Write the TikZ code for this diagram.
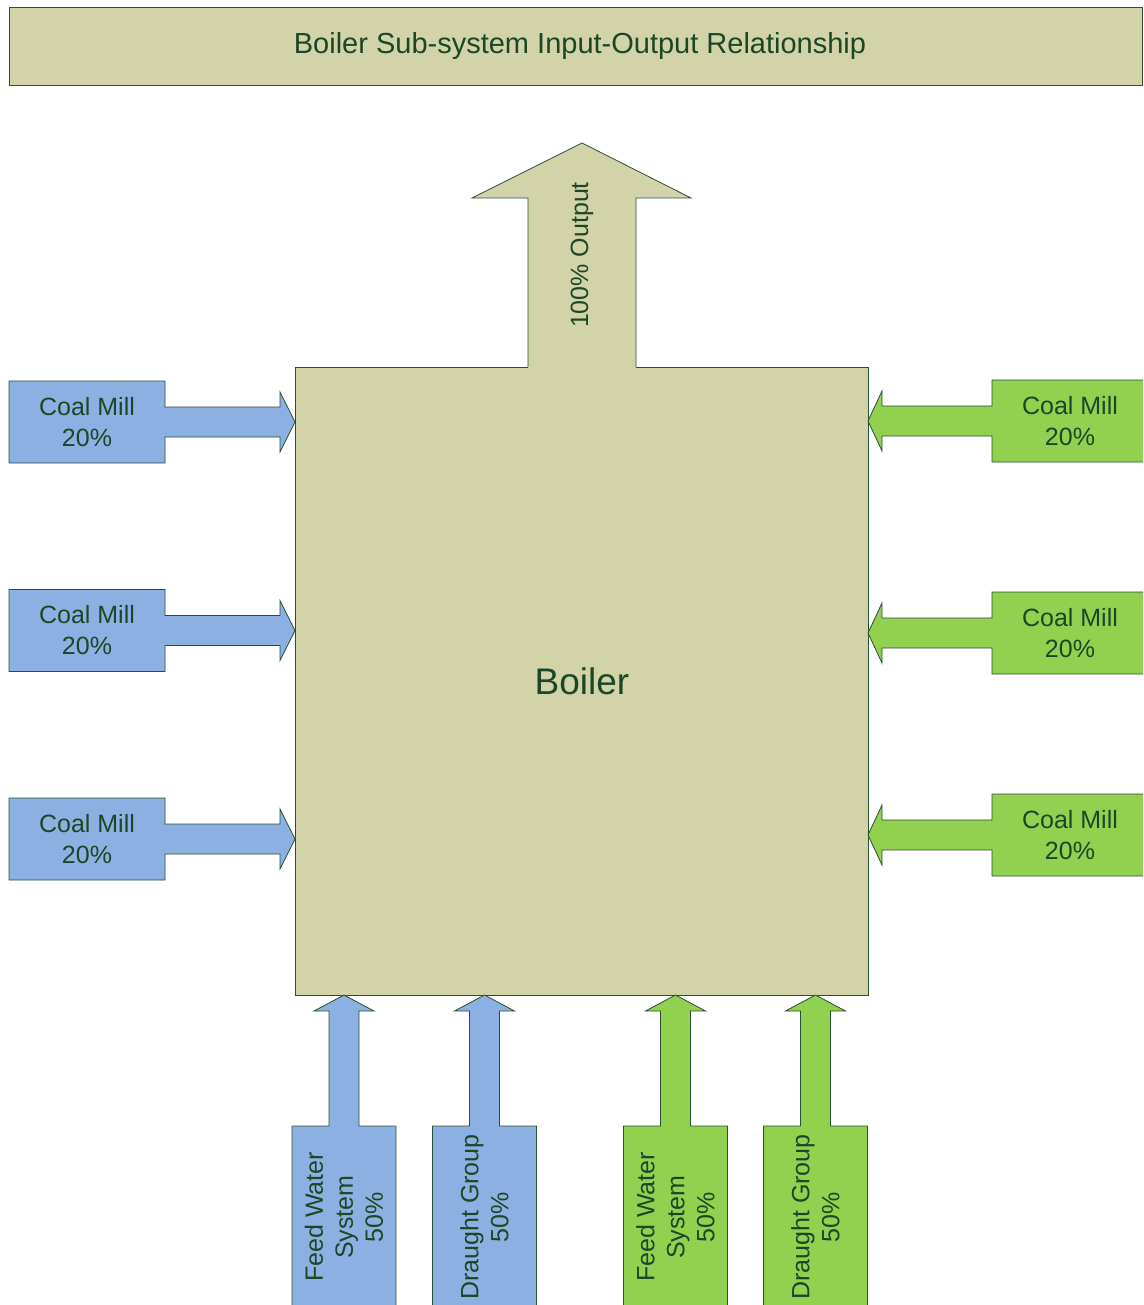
\documentclass[tikz,border=0pt]{standalone}
\usepackage{fontspec}
\setmainfont{Liberation Sans}
\definecolor{boilertan}{RGB}{211,211,170}
\definecolor{millblue}{RGB}{141,176,226}
\definecolor{millgreen}{RGB}{146,208,80}
\definecolor{edgegreen}{RGB}{40,80,50}
\definecolor{inkgreen}{RGB}{28,70,38}
\begin{document}
\begin{tikzpicture}[x=1pt,y=-1pt,
  outline/.style={draw=edgegreen, line width=0.8pt, line join=miter},
  lbl/.style={text=inkgreen, align=center, inner sep=0pt, font=\fontsize{25}{31}\selectfont},
  vlbl/.style={lbl, rotate=90, font=\fontsize{25}{30}\selectfont}]
\useasboundingbox (0,0) rectangle (1143,1305);
\clip (0,0) rectangle (1143,1305);

% title banner
\draw[outline, fill=boilertan] (9,7) rectangle (1142,85);
\node[lbl, font=\fontsize{29}{35}\selectfont] (title) at (580,46) {Boiler Sub-system Input-Output Relationship};

% boiler body
\draw[outline, fill=boilertan] (295,367) rectangle (868,995);
\node[lbl, font=\fontsize{37}{44}\selectfont] (boiler) at (582,681) {Boiler};

% output arrow rising from the boiler
\fill[boilertan] (528,368.5) -- (528,198) -- (472,198) -- (582,143) -- (691,198) -- (636,198) -- (636,368.5) -- cycle;
\draw[outline] (528,367) -- (528,198) -- (472,198) -- (582,143) -- (691,198) -- (636,198) -- (636,367);
\node[vlbl] (output) at (582,255) {100\% Output};

% coal mills feeding from the left
\foreach \c/\n in {422/1,630.5/2,839/3} {
  \draw[outline, fill=millblue] (9,\c-41) -- (165,\c-41) -- (165,\c-15) -- (280,\c-15) -- (280,\c-30) -- (295,\c)
    -- (280,\c+30) -- (280,\c+15) -- (165,\c+15) -- (165,\c+41) -- (9,\c+41) -- cycle;
  \node[lbl] (millL\n) at (87,\c) {Coal Mill\\20\%};
}

% coal mills feeding from the right
\foreach \c/\n in {421/1,633/2,835/3} {
  \draw[outline, fill=millgreen] (1150,\c-41) -- (992,\c-41) -- (992,\c-15) -- (882,\c-15) -- (882,\c-30) -- (868,\c)
    -- (882,\c+30) -- (882,\c+15) -- (992,\c+15) -- (992,\c+41) -- (1150,\c+41) -- cycle;
  \node[lbl] (millR\n) at (1070,\c) {Coal Mill\\20\%};
}

% feed water and draught groups from below
\foreach \c/\col/\txt/\n in {344/millblue/{Feed Water\\System\\50\%}/fwA,
                             484.5/millblue/{Draught Group\\50\%}/dgA,
                             675.5/millgreen/{Feed Water\\System\\50\%}/fwB,
                             815.5/millgreen/{Draught Group\\50\%}/dgB} {
  \draw[outline, fill=\col] (\c-52,1312) -- (\c-52,1126) -- (\c-15,1126) -- (\c-15,1011) -- (\c-30,1011) -- (\c,995)
    -- (\c+30,1011) -- (\c+15,1011) -- (\c+15,1126) -- (\c+52,1126) -- (\c+52,1312);
  \node[vlbl] (\n) at (\c,1217) {\txt};
}
\end{tikzpicture}
\end{document}
